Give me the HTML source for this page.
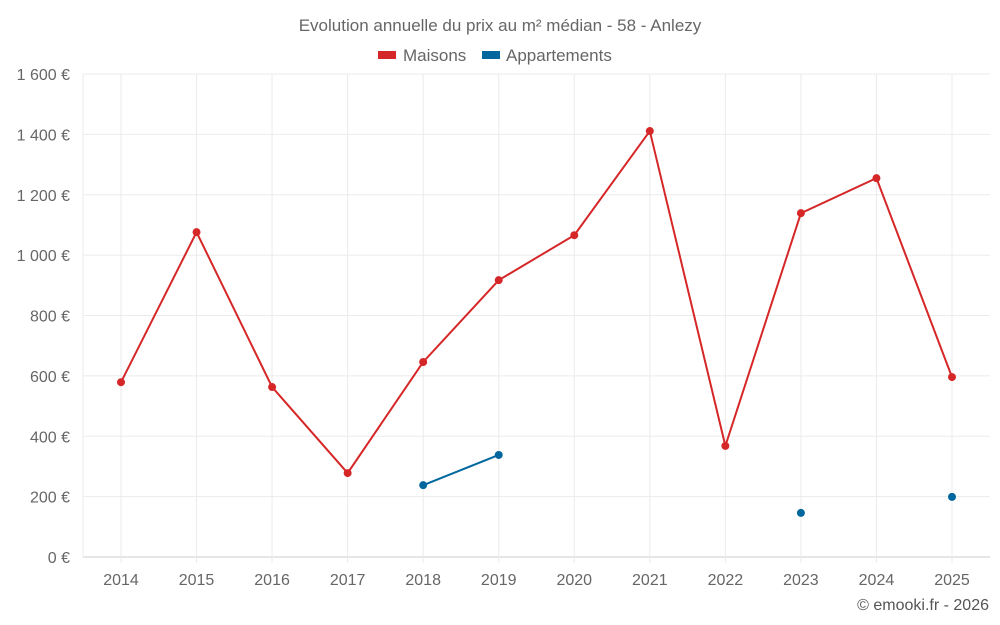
<!DOCTYPE html>
<html><head><meta charset="utf-8"><style>
body{margin:0;background:#fff;font-family:"Liberation Sans",sans-serif;overflow:hidden;width:1000px;height:625px;position:relative}
svg{position:absolute;left:0;top:0}
</style></head><body>
<svg width="1000" height="625" font-family="Liberation Sans, sans-serif">
<g id="grid"></g><g id="marks"></g>
</svg>
<script>
const years=[2014,2015,2016,2017,2018,2019,2020,2021,2022,2023,2024,2025];
const maisons=[579,1076,563,278,646,917,1066,1411,368,1139,1255,596];
const appartements=[null,null,null,null,238,338,null,null,null,146,null,199];
const yTicks=[0,200,400,600,800,1000,1200,1400,1600];
const yTickLabels=["0 €","200 €","400 €","600 €","800 €","1 000 €","1 200 €","1 400 €","1 600 €"];
const NS="http://www.w3.org/2000/svg";
const svg=document.querySelector('svg');
const L=83,R=990,T=74,B=557;
const x=i=>121+i*(952-121)/(years.length-1);
const y=v=>B-(v/1600)*(B-T);
function mk(tag,attrs,parent,text){const e=document.createElementNS(NS,tag);for(const k in attrs)e.setAttribute(k,attrs[k]);if(text!==undefined)e.textContent=text;(parent||svg).appendChild(e);return e;}
const g=document.getElementById('grid'),m=document.getElementById('marks');
yTicks.forEach((t,i)=>{
 const l=mk('line',{x1:L,x2:R,y1:y(t),y2:y(t),stroke:i==0?'#ccc':'#ebebeb'},g);
 
 const tx=mk('text',{x:70,y:y(t)+6,'text-anchor':'end','font-size':16,fill:'#666'},g,yTickLabels[i]);
 
});
years.forEach((yr,i)=>{
 const l=mk('line',{x1:x(i),x2:x(i),y1:T,y2:B+6,stroke:'#ebebeb'},g);
 
 const tx=mk('text',{x:x(i),y:585,'text-anchor':'middle','font-size':16,fill:'#666'},g,yr);
 
});
mk('line',{x1:L,x2:L,y1:T,y2:B,stroke:'#ebebeb'},g);
function series(vals,color,name){
 let seg=[];const segs=[];
 vals.forEach((v,i)=>{if(v==null){if(seg.length)segs.push(seg);seg=[];}else seg.push([x(i),y(v)]);});
 if(seg.length)segs.push(seg);
 segs.forEach(s=>{if(s.length>1){const p=mk('polyline',{points:s.map(q=>q.join(',')).join(' '),fill:'none',stroke:color,'stroke-width':2},m);
  }});
 vals.forEach((v,i)=>{if(v==null)return;const c=mk('circle',{cx:x(i),cy:y(v),r:4,fill:color},m);
  });
}
series(maisons,'#d62728','maisons');
series(appartements,'#00679e','appartements');
</script>
<svg width="1000" height="625" font-family="Liberation Sans, sans-serif">
<g><rect x="378" y="51" width="18" height="8" fill="#d62728"/><text x="403" y="61" font-size="17" fill="#666">Maisons</text></g>
<g><rect x="482" y="51" width="18" height="8" fill="#00679e"/><text x="506" y="61" font-size="17" fill="#666">Appartements</text></g>
<text x="500" y="31" text-anchor="middle" font-size="17" fill="#666">Evolution annuelle du prix au m² médian - 58 - Anlezy</text>
<text x="989" y="610" text-anchor="end" font-size="16" fill="#555">© emooki.fr - 2026</text>
</svg>
</body></html>
